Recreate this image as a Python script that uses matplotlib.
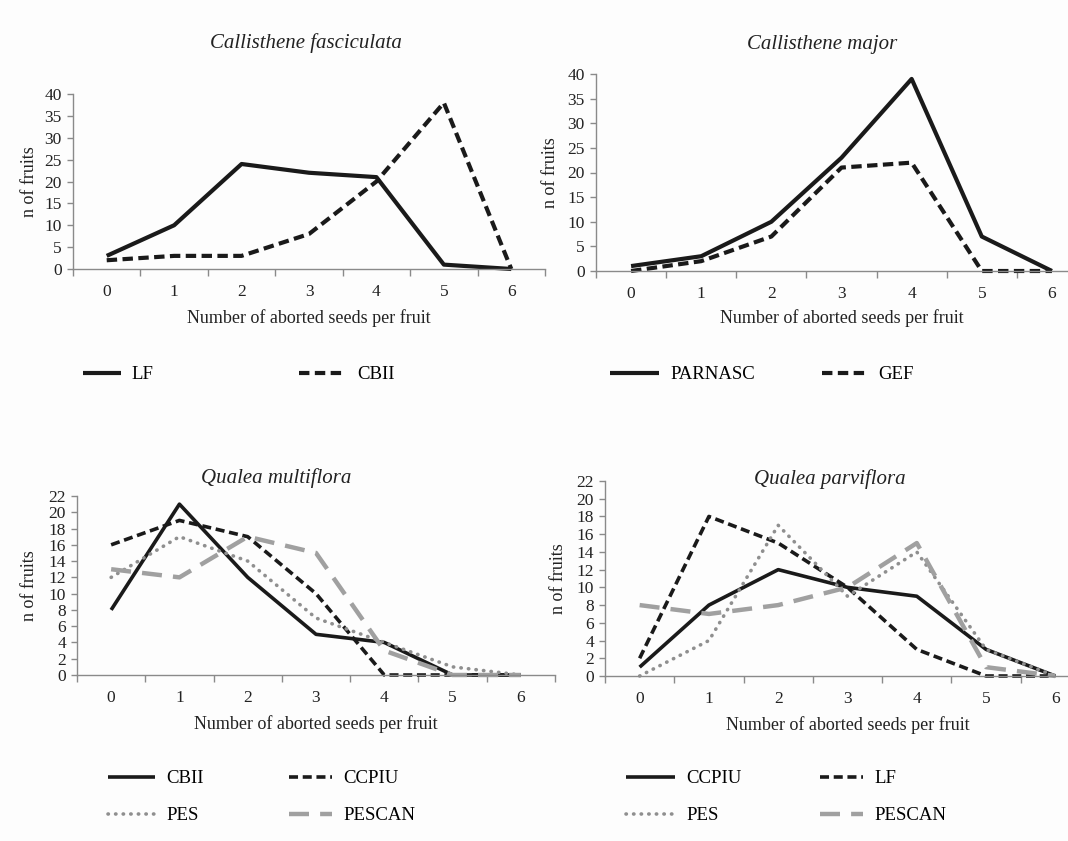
import matplotlib
matplotlib.use('Agg')
import matplotlib.pyplot as plt
import numpy as np

plt.rcParams['font.family'] = ['Liberation Serif', 'DejaVu Serif']

# abortos por fruto (0..6)
semillas = [0, 1, 2, 3, 4, 5, 6]

# Callisthene fasciculata
cf_lf = [3, 10, 24, 22, 21, 1, 0]
cf_cbii = [2, 3, 3, 8, 20, 38, 0]

# Callisthene major
cm_parnasc = [1, 3, 10, 23, 39, 7, 0]
cm_gef = [0, 2, 7, 21, 22, 0, 0]

# Qualea multiflora
qm_cbii = [8, 21, 12, 5, 4, 0, 0]
qm_ccpiu = [16, 19, 17, 10, 0, 0, 0]
qm_pes = [12, 17, 14, 7, 4, 1, 0]
qm_pescan = [13, 12, 17, 15, 3, 0, 0]

# Qualea parviflora
qp_ccpiu = [1, 8, 12, 10, 9, 3, 0]
qp_lf = [2, 18, 15, 10, 3, 0, 0]
qp_pes = [0, 4, 17, 9, 14, 3, 0]
qp_pescan = [8, 7, 8, 10, 15, 1, 0]

NEGRO = '#1a1a1a'
GRIS_AXIS = '#8a8a8a'
GRIS_PUNTOS = '#8f8f8f'
GRIS_RAYAS = '#a0a0a0'
FONDO = '#fdfdfd'

W, H = 1068, 841
fig = plt.figure(figsize=(W / 100, H / 100), dpi=100, facecolor=FONDO)


def caja(x0, y0, x1, y1):
    # pixeles -> coordenadas de figura
    return [x0 / W, 1 - y1 / H, (x1 - x0) / W, (y1 - y0) / H]


def preparar(ax, ymax, paso, ylab_x, xlab_y):
    ax.set_facecolor(FONDO)
    ax.set_xlim(-0.5, 6.5)
    ax.set_ylim(0, ymax)
    ax.set_yticks(np.arange(0, ymax + 1, paso))
    ax.set_xticks(semillas)
    ax.set_xticks(np.arange(-0.5, 7, 1), minor=True)
    for s in ['top', 'right']:
        ax.spines[s].set_visible(False)
    for s in ['left', 'bottom']:
        ax.spines[s].set_color(GRIS_AXIS)
        ax.spines[s].set_linewidth(1.0)
    ax.tick_params(axis='x', which='major', length=0, pad=11, labelsize=12.5, colors='#222222')
    ax.tick_params(axis='x', which='minor', length=5, width=1, color=GRIS_AXIS, direction='out')
    ax.tick_params(axis='y', which='major', length=4, width=1, color=GRIS_AXIS, pad=4,
                   labelsize=12.5, labelcolor='#222222')
    ax.set_ylabel('n of fruits', fontsize=13, color='#222222')
    ax.set_xlabel('Number of aborted seeds per fruit', fontsize=13, color='#222222')
    ax.yaxis.set_label_coords(ylab_x, 0.5)
    ax.xaxis.set_label_coords(0.5, xlab_y)


def leyenda(ax, lineas, nombres, x, y, hl=2.0, sep=1.07):
    fig.legend(lineas, nombres, loc='upper left', bbox_to_anchor=(x / W, 1 - y / H),
               frameon=False, fontsize=13.5, handlelength=hl, handletextpad=0.6,
               borderpad=0, borderaxespad=0, labelspacing=sep)


estilo_solido = dict(color=NEGRO, lw=3, solid_capstyle='butt', clip_on=False)
estilo_raya = dict(color=NEGRO, lw=3, linestyle=(0, (2.5, 1.3)), clip_on=False)
estilo_punto = dict(color=GRIS_PUNTOS, lw=2.6, linestyle=(0, (0.1, 2.0)),
                    dash_capstyle='round', clip_on=False)
estilo_larga = dict(color=GRIS_RAYAS, lw=3.2, linestyle=(0, (4.5, 2.5)), clip_on=False)

# --- Callisthene fasciculata
ax1 = fig.add_axes(caja(73, 94, 545, 269))
preparar(ax1, 40, 5, -0.074, -0.229)
l1, = ax1.plot(semillas, cf_lf, **estilo_solido)
l2, = ax1.plot(semillas, cf_cbii, **estilo_raya)
fig.text(306 / W, 1 - 43 / H, 'Callisthene fasciculata', style='italic', fontsize=15,
         ha='center', va='center', color='#222222')
leyenda(ax1, [l1], ['LF'], 83, 366)
leyenda(ax1, [l2], ['CBII'], 299, 366, hl=2.5)

# --- Callisthene major
ax2 = fig.add_axes(caja(596, 74, 1087, 271))
preparar(ax2, 40, 5, -0.076, -0.193)
l1, = ax2.plot(semillas, cm_parnasc, **estilo_solido)
l2, = ax2.plot(semillas, cm_gef, **estilo_raya)
fig.text(822 / W, 1 - 44 / H, 'Callisthene major', style='italic', fontsize=15,
         ha='center', va='center', color='#222222')
leyenda(ax2, [l1], ['PARNASC'], 610, 366, hl=2.6)
leyenda(ax2, [l2], ['GEF'], 822, 366, hl=2.4)

# --- Qualea multiflora
ax3 = fig.add_axes(caja(77, 496, 555, 675))
preparar(ax3, 22, 2, -0.082, -0.223)
a, = ax3.plot(semillas, qm_cbii, **dict(estilo_solido, lw=2.6))
b, = ax3.plot(semillas, qm_ccpiu, **dict(estilo_raya, lw=2.6))
c, = ax3.plot(semillas, qm_pes, **estilo_punto)
d, = ax3.plot(semillas, qm_pescan, **estilo_larga)
fig.text(276 / W, 1 - 478 / H, 'Qualea multiflora', style='italic', fontsize=15,
         ha='center', va='center', color='#222222')
leyenda(ax3, [a, c], ['CBII', 'PES'], 108, 770, hl=2.5)
leyenda(ax3, [b, d], ['CCPIU', 'PESCAN'], 289, 770, hl=2.3)

# --- Qualea parviflora
ax4 = fig.add_axes(caja(605, 481, 1090, 676))
preparar(ax4, 22, 2, -0.078, -0.205)
a, = ax4.plot(semillas, qp_ccpiu, **dict(estilo_solido, lw=2.6))
b, = ax4.plot(semillas, qp_lf, **dict(estilo_raya, lw=2.6))
c, = ax4.plot(semillas, qp_pes, **estilo_punto)
d, = ax4.plot(semillas, qp_pescan, **estilo_larga)
fig.text(830 / W, 1 - 479 / H, 'Qualea parviflora', style='italic', fontsize=15,
         ha='center', va='center', color='#222222')
leyenda(ax4, [a, c], ['CCPIU', 'PES'], 626, 770, hl=2.6)
leyenda(ax4, [b, d], ['LF', 'PESCAN'], 820, 770, hl=2.3)

fig.savefig('out.png', dpi=100, facecolor=FONDO)
